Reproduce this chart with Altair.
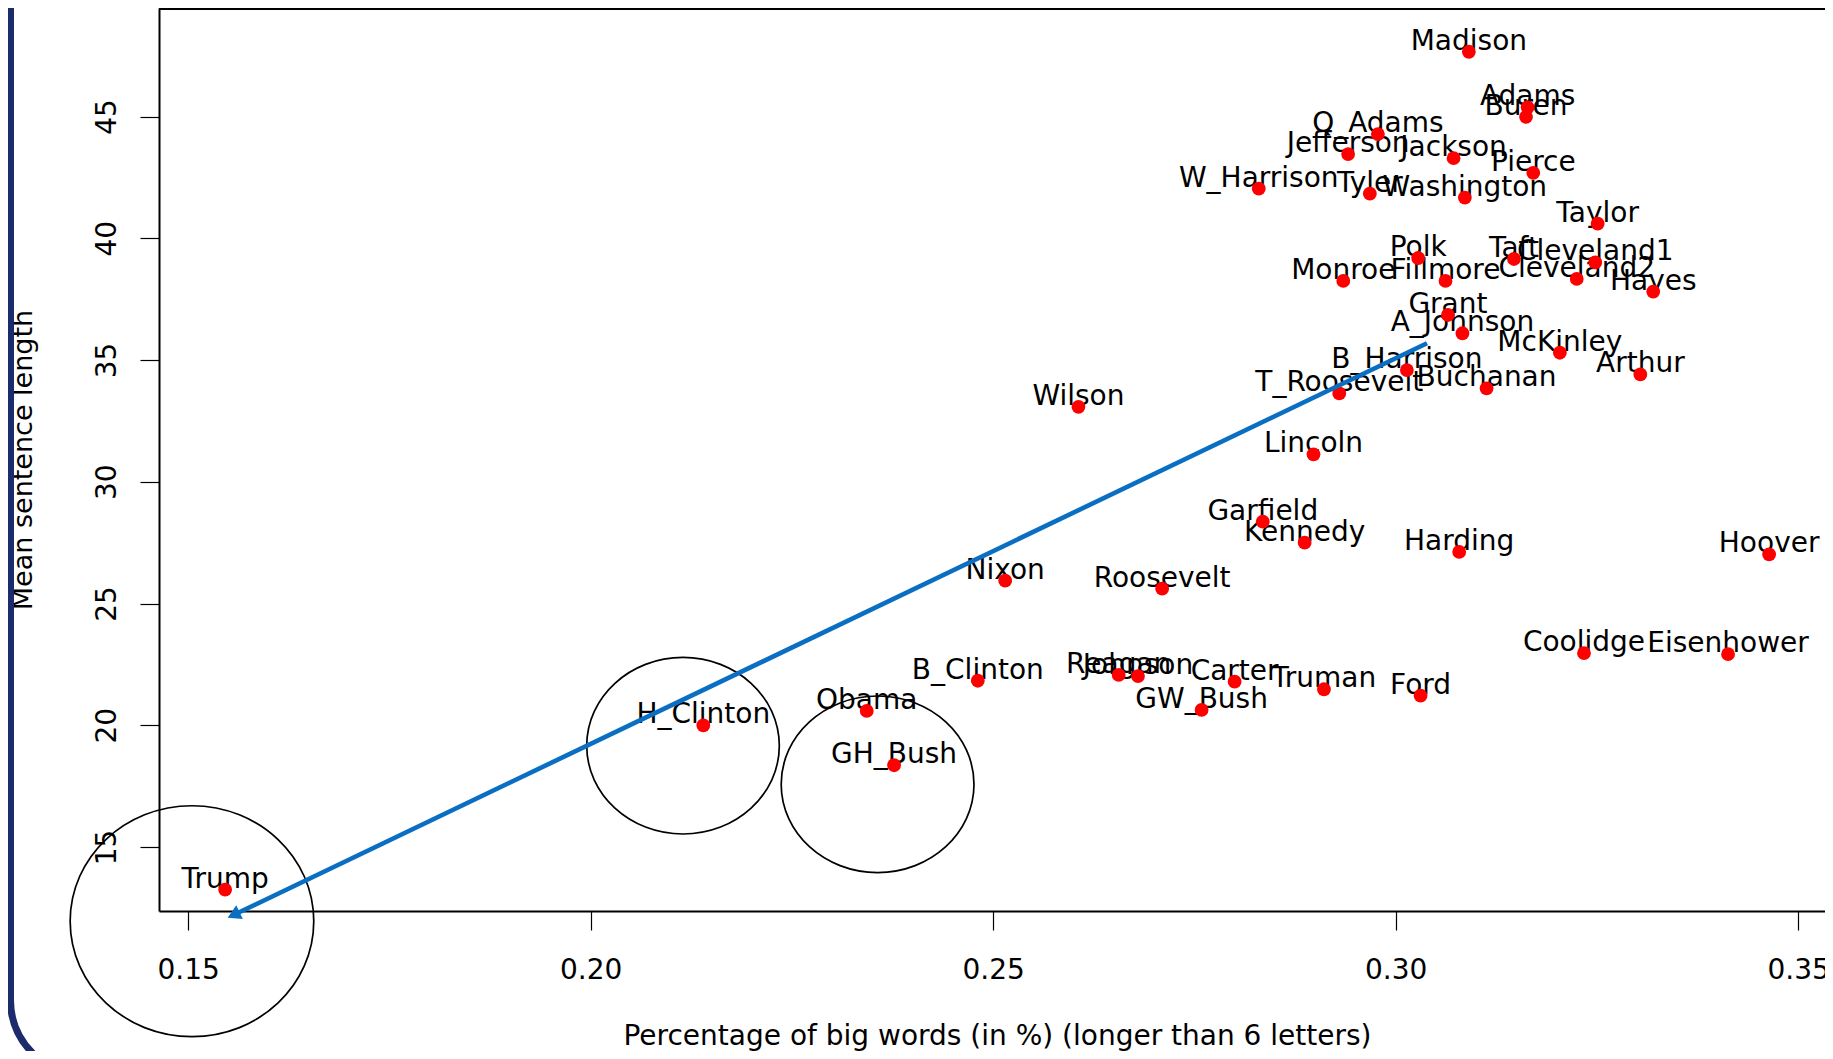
import altair as alt
import pandas as pd

# ---------------- data ----------------
names = ["Madison", "Adams", "Buren", "Q_Adams", "Jefferson", "Jackson", "Pierce",
         "W_Harrison", "Tyler", "Washington", "Taylor", "Polk", "Taft", "Cleveland1",
         "Cleveland2", "Monroe", "Fillmore", "Hayes", "Grant", "A_Johnson", "McKinley",
         "Arthur", "B_Harrison", "T_Roosevelt", "Buchanan", "Wilson", "Lincoln",
         "Garfield", "Kennedy", "Nixon", "Roosevelt", "Harding", "Hoover", "Coolidge",
         "Eisenhower", "B_Clinton", "Reagan", "Johnson", "Carter", "Truman", "Ford",
         "GW_Bush", "H_Clinton", "Obama", "GH_Bush", "Trump"]
big_words = [0.3091, 0.3164, 0.3162, 0.2978, 0.2941, 0.3072, 0.3171,
             0.2830, 0.2968, 0.3086, 0.3251, 0.3028, 0.3147, 0.3248,
             0.3225, 0.2935, 0.3062, 0.3320, 0.3065, 0.3083, 0.3204,
             0.3304, 0.3014, 0.2930, 0.3113, 0.2606, 0.2898,
             0.2835, 0.2887, 0.2515, 0.2710, 0.3079, 0.3464, 0.3234,
             0.3413, 0.2481, 0.2656, 0.2680, 0.2800, 0.2911, 0.3031,
             0.2759, 0.2140, 0.2343, 0.2377, 0.1546]
sentence_len = [47.66, 45.38, 44.99, 44.28, 43.46, 43.29, 42.69,
                42.04, 41.83, 41.67, 40.60, 39.19, 39.15, 39.01,
                38.33, 38.25, 38.25, 37.81, 36.85, 36.10, 35.30,
                34.41, 34.59, 33.63, 33.84, 33.08, 31.13,
                28.36, 27.50, 25.94, 25.61, 27.12, 27.02, 22.96,
                22.92, 21.83, 22.07, 22.02, 21.79, 21.48, 21.22,
                20.63, 20.00, 20.59, 18.36, 13.25]

# highlighted groups (ellipse centres, data units)
circle_names = ["Trump", "H_Clinton", "GH_Bush"]
circle_x = [0.15048, 0.21148, 0.23565]
circle_y = [11.955, 19.162, 17.577]

# trend arrow (start, end) in data units
arrow_x = [0.3039, 0.1559]
arrow_y = [35.69, 12.25]

x_ticks = [0.15, 0.20, 0.25, 0.30, 0.35]
y_ticks = [15, 20, 25, 30, 35, 40, 45]
x_title = "Percentage of big words (in %) (longer than 6 letters)"
y_title = "Mean sentence length"

# ---------------- styling ----------------
FONT = "DejaVu Sans"
W, H = 1666, 903
x_dom = [0.146385, 0.35334]
y_dom = [12.374, 49.457]
BLUE = "#0a6fc2"
NAVY = "#1c2b6b"

ellipse_style = {  # radius in px, y/x ratio
    "Trump": (121.8, 0.948),
    "H_Clinton": (96.3, 0.917),
    "GH_Bush": (96.4, 0.916),
}


def ellipse_path(k):
    c = 0.5523
    return (f"M 1 0 C 1 {c*k:.4f} {c:.4f} {k:.4f} 0 {k:.4f} "
            f"C {-c:.4f} {k:.4f} -1 {c*k:.4f} -1 0 "
            f"C -1 {-c*k:.4f} {-c:.4f} {-k:.4f} 0 {-k:.4f} "
            f"C {c:.4f} {-k:.4f} 1 {-c*k:.4f} 1 0 Z")


x_axis = alt.Axis(values=x_ticks, format=".2f", grid=False,
                  domainColor="black", domainWidth=2,
                  tickColor="black", tickWidth=1.2, tickSize=19,
                  labelFont=FONT, labelFontSize=28, labelColor="black",
                  labelBaseline="alphabetic", labelPadding=48,
                  labelFlush=False, labelOverlap=False,
                  title=x_title, titleFont=FONT, titleFontSize=28,
                  titleFontWeight="normal", titleColor="black",
                  titleX=838, titleY=133, titleAlign="center",
                  titleBaseline="alphabetic")
y_axis = alt.Axis(values=y_ticks, format="d", grid=False,
                  domainColor="black", domainWidth=2,
                  tickColor="black", tickWidth=1.2, tickSize=19,
                  labelFont=FONT, labelFontSize=28, labelColor="black",
                  labelAngle=270, labelAlign="center",
                  labelBaseline="alphabetic", labelPadding=25,
                  labelFlush=False, labelOverlap=False,
                  title=y_title, titleFont=FONT, titleFontSize=27,
                  titleFontWeight="normal", titleColor="black",
                  titleAngle=270, titleX=-128, titleY=H / 2,
                  titleAlign="center", titleBaseline="alphabetic")


def X():
    return alt.X("x:Q", scale=alt.Scale(domain=x_dom, zero=False, nice=False),
                 axis=x_axis)


def Y():
    return alt.Y("y:Q", scale=alt.Scale(domain=y_dom, zero=False, nice=False),
                 axis=y_axis)


pts = pd.DataFrame({"name": names, "x": big_words, "y": sentence_len})
one = pd.DataFrame({"x": [x_dom[0]], "y": [y_dom[0]]})

frame = alt.Chart(one).mark_rect(
    filled=False, stroke=NAVY, strokeWidth=7, cornerRadiusBottomLeft=75
).encode(x=alt.value(-148.5), x2=alt.value(3000),
         y=alt.value(-200), y2=alt.value(1067))

top_line = alt.Chart(one).mark_rule(color="black", strokeWidth=2).encode(
    x=alt.value(0), x2=alt.value(W), y=alt.value(1))

labels = alt.Chart(pts).mark_text(
    font=FONT, fontSize=28, color="black", align="center",
    baseline="alphabetic", dy=-2
).encode(x=X(), y=Y(), text="name:N")

dots = alt.Chart(pts).mark_point(
    filled=True, shape="circle", size=190, color="#ff0000", opacity=1
).encode(x=X(), y=Y())

ellipses = []
for nm, cx, cy in zip(circle_names, circle_x, circle_y):
    r, k = ellipse_style[nm]
    d = pd.DataFrame({"x": [cx], "y": [cy]})
    ellipses.append(
        alt.Chart(d).mark_point(filled=False, stroke="black", strokeWidth=1.7,
                                opacity=1)
        .encode(x=X(), y=Y(), shape=alt.value(ellipse_path(k)),
                size=alt.value((2 * r) ** 2))
    )

arr = pd.DataFrame({"x": arrow_x, "y": arrow_y, "o": [0, 1]})
arrow_line = alt.Chart(arr).mark_line(color=BLUE, strokeWidth=4.6).encode(
    x=X(), y=Y(), order="o:Q")
arrow_head = alt.Chart(arr.iloc[[1]]).mark_point(
    shape="triangle", filled=True, size=230, angle=244.5, color=BLUE, opacity=1
).encode(x=X(), y=Y())

chart = alt.layer(frame, top_line, labels, dots, *ellipses, arrow_line, arrow_head).properties(
    width=W, height=H,
    autosize=alt.AutoSizeParams(type="none"),
    padding={"left": 151, "top": 0, "right": 0, "bottom": 140},
    background="white",
).configure_view(stroke=None)

chart.save("out.html", embed_options={"renderer": "svg", "actions": False})
